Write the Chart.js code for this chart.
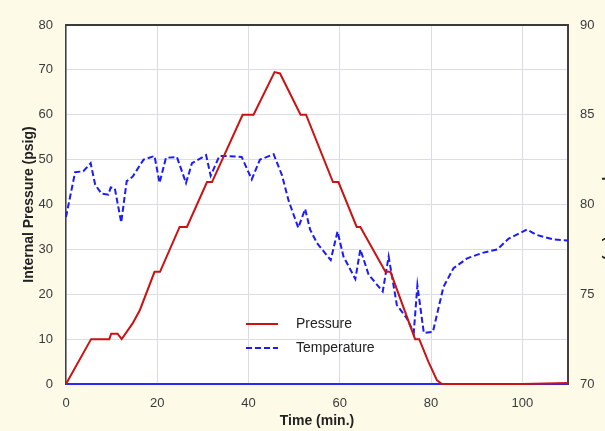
<!DOCTYPE html>
<html>
<head>
<meta charset="utf-8">
<script src="https://cdn.jsdelivr.net/npm/chart.js@4.4.1/dist/chart.umd.min.js"></script>
<style>
  html, body { margin: 0; padding: 0; overflow: hidden; background: #fdfbe7; }
  canvas { display: block; }
</style>
</head>
<body>
<canvas id="pressureChart" width="620" height="431"></canvas>
<script>
// Pressure readings (psig) against time (min.)
const pressureTime = [0, 5.5, 9.5, 9.9, 11.3, 12.2, 14.6, 16.2, 19.4, 20.6, 24.9, 26.5, 30.9, 32.0, 38.7, 41.1, 45.7, 46.9, 51.4, 52.6, 58.5, 59.7, 63.7, 64.5, 70.0, 71.1, 76.5, 77.4, 79.4, 81.3, 82.4, 100, 110];
const pressureValues = [0, 10, 10, 11.2, 11.2, 10, 13.5, 16.5, 25, 25, 35, 35, 45, 45, 60, 60, 69.5, 69.2, 60, 60, 45, 45, 35, 35, 25, 25, 10, 10, 5, 0.8, 0, 0, 0.2];

// Temperature readings (F) against time (min.)
const tempTime = [0, 2.0, 3.8, 5.4, 6.4, 7.8, 9.3, 9.8, 10.7, 12.1, 13.3, 14.6, 17.0, 19.4, 20.5, 21.9, 24.3, 26.3, 27.6, 30.7, 31.7, 33.6, 35.2, 38.5, 40.7, 42.5, 45.5, 47.3, 48.8, 50.9, 52.4, 53.5, 55.0, 58.0, 59.5, 60.8, 63.4, 64.5, 66.3, 69.4, 70.7, 72.5, 74.7, 76.2, 77.0, 78.4, 80.4, 82.7, 84.9, 87.9, 91.2, 94.5, 97.0, 101.0, 103.2, 106.9, 110];
const tempValues = [79.3, 81.8, 81.85, 82.3, 81.1, 80.6, 80.55, 80.95, 80.9, 79.0, 81.3, 81.55, 82.5, 82.7, 81.2, 82.6, 82.65, 81.2, 82.3, 82.75, 81.6, 82.7, 82.7, 82.65, 81.4, 82.5, 82.8, 81.65, 80.2, 78.7, 79.75, 78.6, 77.85, 76.9, 78.5, 77.1, 75.85, 77.5, 76.1, 75.15, 77.1, 74.4, 73.65, 72.85, 75.5, 72.85, 72.9, 75.4, 76.45, 77.0, 77.3, 77.5, 78.1, 78.6, 78.3, 78.05, 78.0];

// Tick labels
const timeTicks = [0, 20, 40, 60, 80, 100];
const pressureTicks = [0, 10, 20, 30, 40, 50, 60, 70, 80];
const tempTicks = [70, 75, 80, 85, 90];

const toPoints = (xs, ys) => xs.map((x, i) => ({ x: x, y: ys[i] }));
const setTicks = (values) => (scale) => { scale.ticks = values.map(v => ({ value: v })); };

const tickFont = { family: "'Liberation Sans', Arial, sans-serif", size: 13 };
const titleFont = { family: "'Liberation Sans', Arial, sans-serif", size: 14, weight: 'bold' };
const gridColor = '#dcdce6';
const tickColor = '#3a3a3a';

// cream page, white plot area
const backgroundPlugin = {
  id: 'background',
  beforeDraw(chart) {
    const { ctx, chartArea } = chart;
    ctx.save();
    ctx.fillStyle = '#fdfbe7';
    ctx.fillRect(0, 0, chart.width, chart.height);
    ctx.fillStyle = '#ffffff';
    ctx.fillRect(chartArea.left, chartArea.top, chartArea.right - chartArea.left, chartArea.bottom - chartArea.top);
    ctx.restore();
  },
  beforeDatasetsDraw(chart) {
    // top edge of the plot frame
    const { ctx, chartArea } = chart;
    ctx.save();
    ctx.strokeStyle = '#3a3a3a';
    ctx.lineWidth = 2;
    ctx.beginPath();
    ctx.moveTo(chartArea.left, chartArea.top);
    ctx.lineTo(chartArea.right, chartArea.top);
    ctx.stroke();
    ctx.restore();
  }
};

// legend drawn inside the plot area
const innerLegend = {
  id: 'innerLegend',
  afterDraw(chart) {
    const { ctx, chartArea } = chart;
    const x0 = chartArea.left + 180;
    let y = chartArea.top + 299;
    ctx.save();
    ctx.font = "14px 'Liberation Sans', Arial, sans-serif";
    ctx.textBaseline = 'middle';
    chart.data.datasets.forEach(ds => {
      ctx.strokeStyle = ds.borderColor;
      ctx.lineWidth = 2;
      ctx.setLineDash(ds.borderDash || []);
      ctx.beginPath();
      ctx.moveTo(x0, y);
      ctx.lineTo(x0 + 32, y);
      ctx.stroke();
      ctx.setLineDash([]);
      ctx.fillStyle = '#222';
      ctx.fillText(ds.label, x0 + 50, y);
      y += 24;
    });
    ctx.restore();
  }
};

const ctx = document.getElementById('pressureChart').getContext('2d');
const chart = new Chart(ctx, {
  type: 'line',
  data: {
    datasets: [{
      label: 'Pressure',
      data: toPoints(pressureTime, pressureValues),
      yAxisID: 'y',
      borderColor: '#cc1111',
      borderWidth: 2,
      clip: 4
    }, {
      label: 'Temperature',
      data: toPoints(tempTime, tempValues),
      yAxisID: 'y1',
      borderColor: '#1a1aff',
      borderWidth: 2,
      borderDash: [6, 3],
      clip: 4
    }]
  },
  options: {
    responsive: false,
    animation: false,
    layout: { padding: { top: 25 } },
    elements: { point: { radius: 0 }, line: { tension: 0 } },
    plugins: { legend: { display: false }, tooltip: { enabled: false } },
    scales: {
      x: {
        type: 'linear',
        min: 0,
        max: 110,
        afterBuildTicks: setTicks(timeTicks),
        afterFit: (s) => { s.height = 47; },
        grid: { color: gridColor, drawTicks: false },
        border: { color: '#2a2af0', width: 2 },
        ticks: { padding: 12, color: tickColor, font: tickFont },
        title: { display: true, text: 'Time (min.)', color: '#222', font: titleFont, padding: { top: 0, bottom: 1 } }
      },
      y: {
        position: 'left',
        min: 0,
        max: 80,
        afterBuildTicks: setTicks(pressureTicks),
        afterFit: (s) => { s.width = 66; },
        grid: { color: gridColor, drawTicks: false },
        border: { color: '#404040', width: 1.5 },
        ticks: { padding: 13, color: tickColor, font: tickFont },
        title: { display: true, text: 'Internal Pressure (psig)', color: '#222', font: titleFont, padding: { top: 21, bottom: 0 } }
      },
      y1: {
        position: 'right',
        min: 70,
        max: 90,
        afterBuildTicks: setTicks(tempTicks),
        afterFit: (s) => { s.width = 52; },
        grid: { drawOnChartArea: false, drawTicks: false },
        border: { color: '#404040', width: 2 },
        ticks: { padding: 12, color: tickColor, font: tickFont },
        title: { display: true, text: 'Temperature (°F)', color: '#222', font: titleFont, padding: { top: 3, bottom: 0 } }
      }
    }
  },
  plugins: [backgroundPlugin, innerLegend]
});
</script>
</body>
</html>
